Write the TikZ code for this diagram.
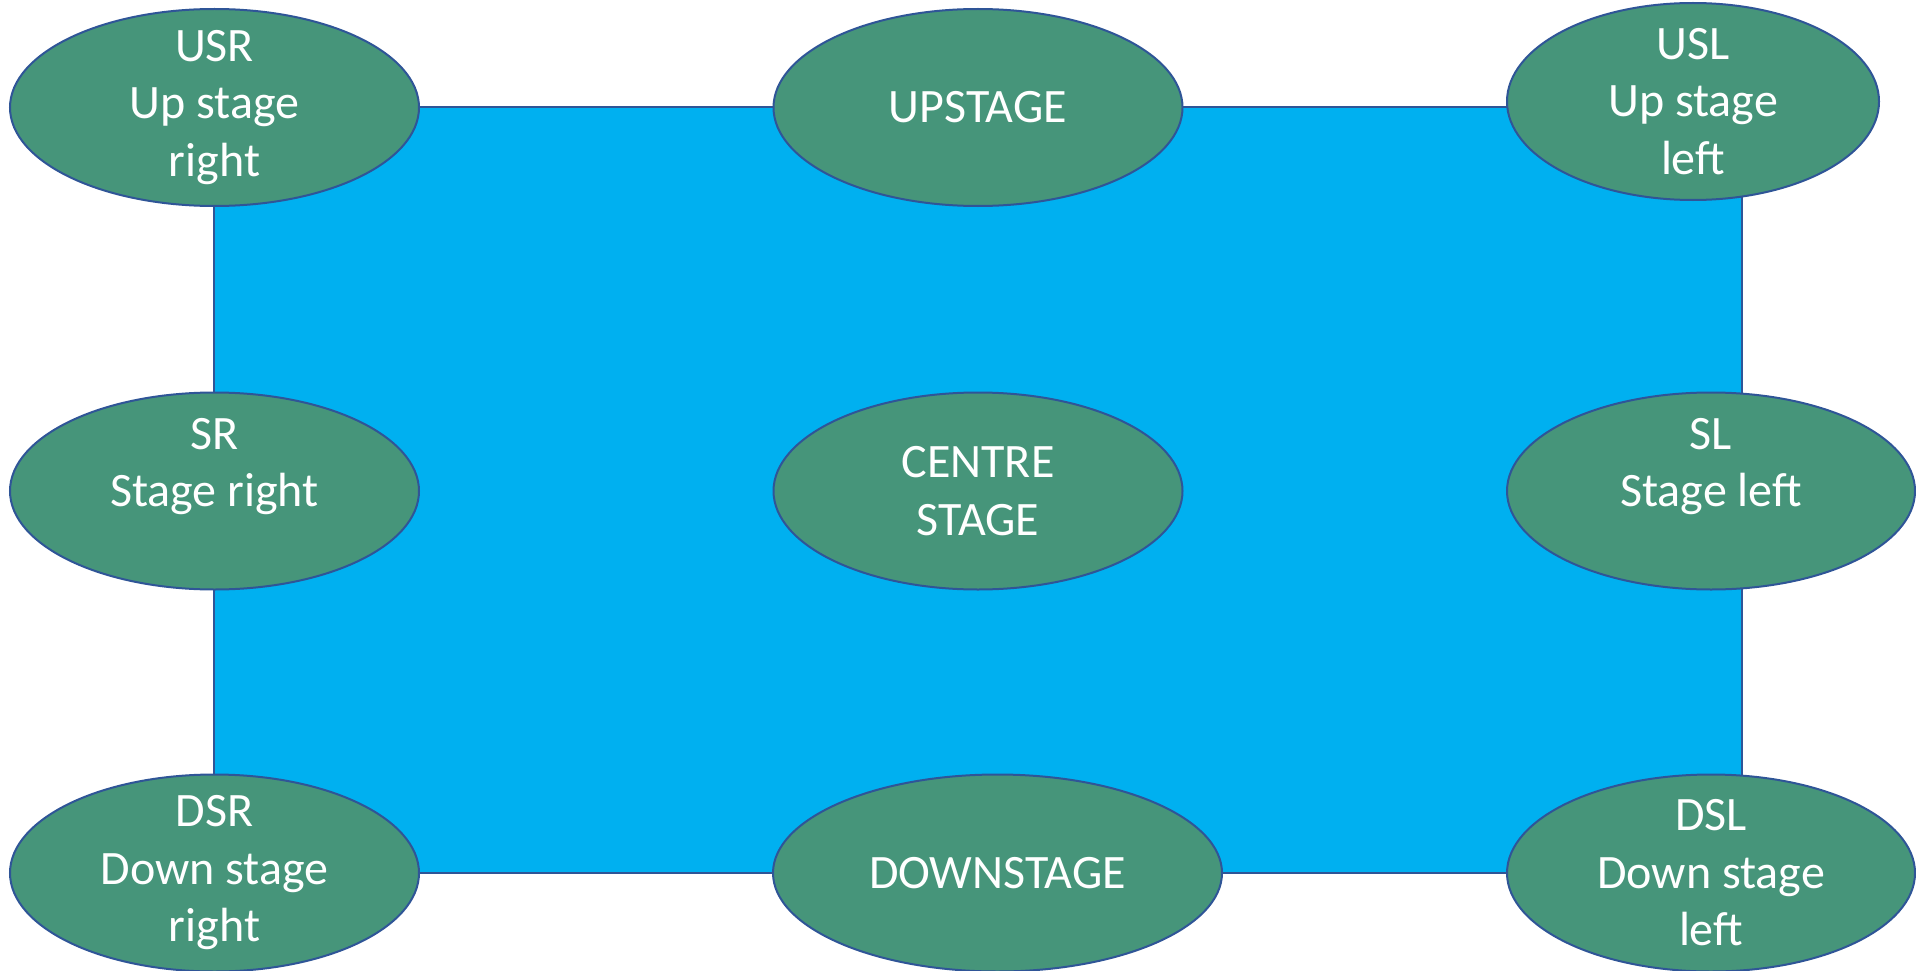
\documentclass[tikz,border=0pt]{standalone}
\usepackage{fontspec}
\setmainfont{Carlito}
\usetikzlibrary{shapes.geometric}
\definecolor{stageblue}{HTML}{00B0F0}
\definecolor{edgeblue}{HTML}{2F5597}
\definecolor{ovalgreen}{HTML}{46957A}
\tikzset{
  oval/.style={ellipse, draw=edgeblue, line width=2pt, fill=ovalgreen, text=white,
    inner sep=-45pt, align=center, minimum height=197pt,
    font=\fontsize{48}{57.5}\selectfont},
  stagebox/.style={draw=edgeblue, line width=2pt, fill=stageblue}
}
\begin{document}
\begin{tikzpicture}[x=1pt,y=-1pt]
\useasboundingbox (0,0) rectangle (1916,971);
\fill[white] (0,0) rectangle (1916,971);
\coordinate (tl) at (214,107);
\coordinate (br) at (1742,873);
\draw[stagebox] (tl) rectangle (br);
\node[oval, minimum width=409pt] (usr) at (214.5,107.5) {USR\\Up stage\\right};
\node[oval, minimum width=409pt] (up) at (978,107.5) {UPSTAGE};
\node[oval, minimum width=372pt] (usl) at (1693,101.5) {USL\\Up stage\\left};
\node[oval, minimum width=409pt] (sr) at (214.5,491) {SR\\Stage right\\\mbox{}};
\node[oval, minimum width=409pt] (cs) at (978,491) {CENTRE\\STAGE};
\node[oval, minimum width=408pt] (sl) at (1711,491) {SL\\Stage left\\\mbox{}};
\node[oval, minimum width=409pt] (dsr) at (214.5,873) {DSR\\Down stage\\right};
\node[oval, minimum width=449pt] (down) at (997.5,873) {DOWNSTAGE};
\node[oval, minimum width=408pt] (dsl) at (1711,873) {DSL\\Down stage\\left};
\end{tikzpicture}
\end{document}
